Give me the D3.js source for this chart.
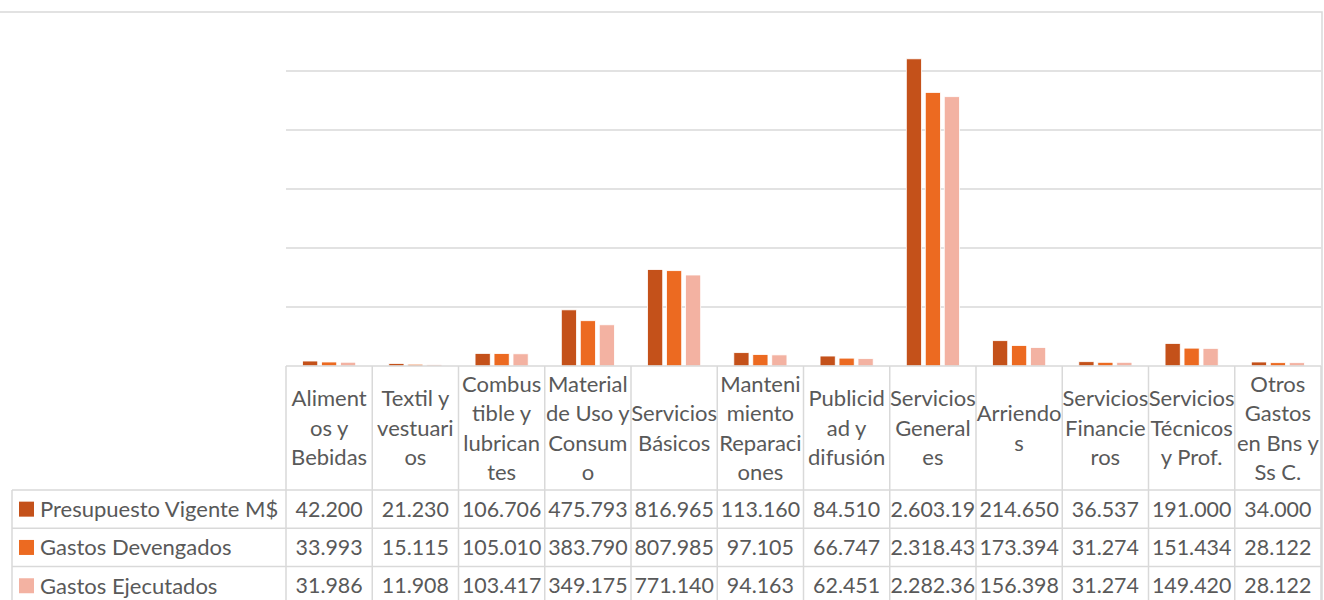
<!DOCTYPE html>
<html>
<head>
<meta charset="utf-8">
<script src="https://cdn.jsdelivr.net/npm/d3@7/dist/d3.min.js"></script>
<style>
  html, body { margin: 0; padding: 0; background: #fff; }
  svg { display: block; }
  text { font-family: Lato, "Open Sans", sans-serif; fill: #595959; }
</style>
</head>
<body>
<svg id="chart" width="1324" height="600"></svg>
<script>
// Budget categories (full names) and their wrapped header lines
const categories = [
  "Alimentos y Bebidas", "Textil y vestuarios", "Combustible y lubricantes",
  "Material de Uso y Consumo", "Servicios Básicos", "Mantenimiento Reparaciones",
  "Publicidad y difusión", "Servicios Generales", "Arriendos",
  "Servicios Financieros", "Servicios Técnicos y Prof.", "Otros Gastos en Bns y Ss C."
];
const categoryLines = [
  ["Aliment", "os y", "Bebidas"],
  ["Textil y", "vestuari", "os"],
  ["Combus", "tible y", "lubrican", "tes"],
  ["Material", "de Uso y", "Consum", "o"],
  ["Servicios", "Básicos"],
  ["Manteni", "miento", "Reparaci", "ones"],
  ["Publicid", "ad y", "difusión"],
  ["Servicios", "General", "es"],
  ["Arriendo", "s"],
  ["Servicios", "Financie", "ros"],
  ["Servicios", "Técnicos", "y Prof."],
  ["Otros", "Gastos", "en Bns y", "Ss C."]
];

const seriesNames = ["Presupuesto Vigente M$", "Gastos Devengados", "Gastos Ejecutados"];
const presupuestoVigente = [42200, 21230, 106706, 475793, 816965, 113160, 84510, 2603190, 214650, 36537, 191000, 34000];
const gastosDevengados   = [33993, 15115, 105010, 383790, 807985, 97105, 66747, 2318430, 173394, 31274, 151434, 28122];
const gastosEjecutados   = [31986, 11908, 103417, 349175, 771140, 94163, 62451, 2282360, 156398, 31274, 149420, 28122];
const seriesColors = ["#C4511A", "#EC6A21", "#F3B2A2"];

const gridTicks = [500000, 1000000, 1500000, 2000000, 2500000];
const yMax = 3000000;

const seriesValues = [presupuestoVigente, gastosDevengados, gastosEjecutados];

// Layout
const plotLeft = 286, plotRight = 1321, plotTop = 12, plotBottom = 366;
const legendLeft = 12;
const headerBottom = 490, rowH = 38.3;
const gridColor = "#D9D9D9";

const svg = d3.select("#chart");

const x0 = d3.scaleBand().domain(d3.range(categories.length)).range([plotLeft, plotRight]);
const cw = x0.bandwidth();
const x1 = d3.scaleBand().domain(d3.range(seriesNames.length))
  .range([cw * 0.192, cw * 0.808]).paddingInner(0.2);
const y = d3.scaleLinear().domain([0, yMax]).range([plotBottom, plotTop]);

// Gridlines
svg.append("g").selectAll("line").data(gridTicks).join("line")
  .attr("x1", plotLeft).attr("x2", plotRight)
  .attr("y1", d => y(d)).attr("y2", d => y(d))
  .attr("stroke", gridColor).attr("stroke-width", 1.5);

// Outer chart frame (top and right edges)
svg.append("path")
  .attr("d", `M0,${plotTop}H1322V600`)
  .attr("fill", "none").attr("stroke", gridColor).attr("stroke-width", 1.5);

// Bars
const groups = svg.append("g").selectAll("g").data(categories).join("g")
  .attr("transform", (d, i) => `translate(${x0(i)},0)`);
groups.selectAll("rect")
  .data((d, i) => seriesValues.map((vals, s) => ({ s, v: vals[i] })))
  .join("rect")
  .attr("x", d => x1(d.s))
  .attr("width", x1.bandwidth())
  .attr("y", d => y(d.v))
  .attr("height", d => y(0) - y(d.v))
  .attr("fill", d => seriesColors[d.s])
  .attr("stroke", "#fff").attr("stroke-width", 0.8);

// Data table grid
const tableBottom = headerBottom + rowH * 3;
const tg = svg.append("g").attr("stroke", gridColor).attr("stroke-width", 1.5).attr("fill", "none");
// baseline / header top
tg.append("line").attr("x1", plotLeft).attr("x2", plotRight).attr("y1", plotBottom).attr("y2", plotBottom);
// row separators
d3.range(3).forEach(r => {
  const yy = headerBottom + rowH * r;
  tg.append("line").attr("x1", legendLeft).attr("x2", plotRight).attr("y1", yy).attr("y2", yy);
});
tg.append("line").attr("x1", legendLeft).attr("x2", plotRight).attr("y1", tableBottom).attr("y2", tableBottom);
// column separators
d3.range(categories.length + 1).forEach(i => {
  const xx = i < categories.length ? x0(i) : plotRight;
  tg.append("line").attr("x1", xx).attr("x2", xx).attr("y1", plotBottom).attr("y2", tableBottom);
});
tg.append("line").attr("x1", legendLeft).attr("x2", legendLeft).attr("y1", headerBottom).attr("y2", tableBottom);

// Header labels (category names)
const lineH = 29.4;
const headerMid = (plotBottom + headerBottom) / 2;
const hdr = svg.append("g").attr("font-size", 22).attr("text-anchor", "middle");
categoryLines.forEach((lines, i) => {
  const cx = x0(i) + cw / 2;
  const start = headerMid - (lines.length - 1) * lineH / 2;
  const t = hdr.append("text").attr("x", cx);
  lines.forEach((ln, k) => {
    t.append("tspan").attr("x", cx).attr("y", start + k * lineH + 7.8).text(ln);
  });
});

// Value rows with legend keys
const fmt = d3.formatLocale({ decimal: ",", thousands: ".", grouping: [3], currency: ["$", ""] }).format(",d");
const rows = svg.append("g");
seriesNames.forEach((name, s) => {
  const rc = headerBottom + rowH * s + rowH / 2;
  rows.append("rect").attr("x", 19).attr("y", rc - 7.5).attr("width", 15).attr("height", 15)
    .attr("fill", seriesColors[s]);
  rows.append("text").attr("font-size", 22).attr("x", 40).attr("y", rc + 7.8).text(name);
  seriesValues[s].forEach((v, i) => {
    const t = rows.append("text").attr("font-size", 21.4).attr("text-anchor", "middle")
      .attr("x", x0(i) + cw / 2).attr("y", rc + 7.6).text(fmt(v));
    // drop trailing characters that do not fit inside the cell
    let str = fmt(v);
    while (t.node().getComputedTextLength() > cw - 1 && str.length > 1) {
      str = str.slice(0, -1);
      t.text(str);
    }
  });
});
</script>
</body>
</html>
